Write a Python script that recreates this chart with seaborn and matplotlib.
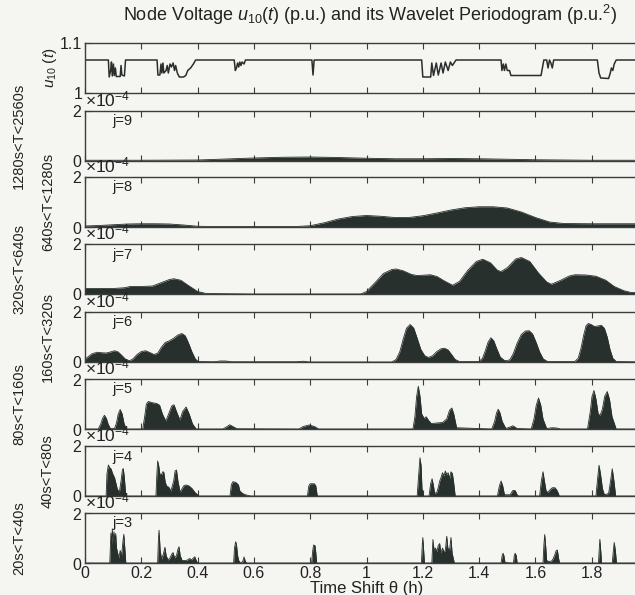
import numpy as np
import pandas as pd
import matplotlib
matplotlib.use("Agg")
import matplotlib.pyplot as plt
from matplotlib.ticker import ScalarFormatter
import seaborn as sns

# ---------------- data ----------------
# node voltage u10(t), p.u.
volt_x = [0, 0.083, 0.086, 0.091, 0.094, 0.097, 0.101, 0.104, 0.108, 0.111, 0.125, 0.128, 0.131, 0.14, 0.144,
          0.256, 0.259, 0.266, 0.27, 0.273, 0.277, 0.28, 0.288, 0.292, 0.296, 0.302, 0.307, 0.313, 0.318, 0.322,
          0.328, 0.335, 0.35, 0.358, 0.365, 0.375, 0.385, 0.393,
          0.53, 0.534, 0.538, 0.542, 0.546, 0.55, 0.554, 0.558, 0.565, 0.57,
          0.806, 0.81, 0.814,
          1.196, 1.2, 1.228, 1.232, 1.238, 1.248, 1.255, 1.265, 1.272, 1.28, 1.29, 1.298, 1.305, 1.318,
          1.478, 1.481, 1.486, 1.49, 1.495, 1.5, 1.508, 1.513, 1.62, 1.63, 1.64, 1.645, 1.65, 1.655, 1.66, 1.665,
          1.672, 1.82, 1.826, 1.832, 1.86, 1.866, 1.87, 1.875, 1.88, 1.887, 2.0]
volt_y = [1.066, 1.066, 1.032, 1.045, 1.062, 1.034, 1.058, 1.035, 1.05, 1.033, 1.033, 1.055, 1.036, 1.034, 1.066,
          1.066, 1.036, 1.036, 1.058, 1.04, 1.06, 1.04, 1.045, 1.055, 1.04, 1.058, 1.052, 1.06, 1.045, 1.055,
          1.04, 1.032, 1.032, 1.035, 1.045, 1.05, 1.058, 1.066,
          1.066, 1.045, 1.05, 1.06, 1.052, 1.062, 1.055, 1.062, 1.058, 1.066,
          1.066, 1.036, 1.066,
          1.066, 1.032, 1.032, 1.06, 1.035, 1.06, 1.036, 1.06, 1.04, 1.062, 1.045, 1.062, 1.055, 1.066,
          1.066, 1.045, 1.058, 1.045, 1.058, 1.045, 1.045, 1.035, 1.035, 1.066, 1.066, 1.05, 1.066, 1.06, 1.05, 1.066,
          1.066, 1.066, 1.04, 1.03, 1.029, 1.04, 1.05, 1.045, 1.058, 1.066, 1.066]

# wavelet periodogram levels (values in units of 1e-4 p.u.^2)
j9_x = [0, 0.2, 0.4, 0.5, 0.6, 0.7, 0.8, 0.9, 1.0, 1.1, 1.2, 1.3, 1.4, 1.5, 1.6, 1.8, 2.0]
j9_y = [0.03, 0.03, 0.04, 0.08, 0.12, 0.15, 0.16, 0.14, 0.11, 0.09, 0.09, 0.1, 0.09, 0.07, 0.05, 0.03, 0.03]

j8_x = [0, 0.05, 0.1, 0.15, 0.2, 0.25, 0.3, 0.35, 0.4, 0.45, 0.6, 0.75, 0.8, 0.85, 0.9, 0.95, 1.0, 1.05, 1.1,
        1.15, 1.2, 1.25, 1.3, 1.35, 1.4, 1.45, 1.5, 1.55, 1.6, 1.65, 1.7, 1.8, 1.9, 2.0]
j8_y = [0.04, 0.06, 0.09, 0.12, 0.13, 0.13, 0.12, 0.08, 0.03, 0.02, 0.02, 0.02, 0.05, 0.17, 0.32, 0.42, 0.46,
        0.43, 0.38, 0.38, 0.45, 0.56, 0.68, 0.77, 0.81, 0.81, 0.76, 0.6, 0.38, 0.2, 0.14, 0.13, 0.13, 0.13]

j7_x = [0, 0.1, 0.14, 0.16, 0.2, 0.24, 0.27, 0.3, 0.316, 0.34, 0.37, 0.4, 0.43, 0.6, 0.98, 1.0, 1.03, 1.06,
        1.09, 1.105, 1.13, 1.16, 1.18, 1.2, 1.227, 1.25, 1.28, 1.306, 1.33, 1.36, 1.39, 1.413, 1.44, 1.465,
        1.478, 1.5, 1.53, 1.55, 1.58, 1.61, 1.64, 1.657, 1.69, 1.72, 1.74, 1.78, 1.815, 1.85, 1.88, 1.915,
        1.94, 2.0]
j7_y = [0.22, 0.22, 0.25, 0.3, 0.3, 0.32, 0.45, 0.58, 0.61, 0.55, 0.32, 0.1, 0.02, 0.0, 0.0, 0.1, 0.45, 0.82,
        0.98, 1.0, 0.93, 0.78, 0.74, 0.75, 0.77, 0.7, 0.5, 0.35, 0.5, 0.95, 1.3, 1.39, 1.25, 0.95, 0.9, 1.05,
        1.4, 1.46, 1.3, 0.85, 0.48, 0.39, 0.55, 0.72, 0.77, 0.76, 0.71, 0.55, 0.3, 0.13, 0.06, 0.05]

j6_x = [0, 0.01, 0.025, 0.043, 0.06, 0.075, 0.09, 0.105, 0.118, 0.13, 0.145, 0.158, 0.17, 0.185, 0.2, 0.215,
        0.23, 0.245, 0.258, 0.272, 0.285, 0.3, 0.315, 0.33, 0.344, 0.356, 0.368, 0.38, 0.392, 0.402,
        0.46, 0.48, 0.50, 0.52, 0.75, 0.775, 0.80,
        1.09, 1.105, 1.118, 1.13, 1.142, 1.155, 1.168, 1.18, 1.193, 1.207, 1.22, 1.235, 1.25, 1.265, 1.277,
        1.29, 1.302, 1.315, 1.33,
        1.40, 1.412, 1.422, 1.432, 1.442, 1.452, 1.462, 1.475, 1.49, 1.5, 1.51, 1.522, 1.535, 1.55, 1.565,
        1.578, 1.59, 1.602, 1.615, 1.628, 1.643,
        1.74, 1.752, 1.762, 1.772, 1.78, 1.788, 1.798, 1.81, 1.822, 1.834, 1.845, 1.855, 1.865, 1.875, 1.887,
        2.0]
j6_y = [0.1, 0.2, 0.33, 0.39, 0.37, 0.36, 0.4, 0.45, 0.4, 0.27, 0.1, 0.05, 0.12, 0.3, 0.42, 0.45,
        0.38, 0.3, 0.35, 0.6, 0.78, 0.85, 0.95, 1.08, 1.14, 1.05, 0.75, 0.4, 0.12, 0.02,
        0.01, 0.04, 0.04, 0.01, 0.01, 0.03, 0.0,
        0.0, 0.1, 0.4, 0.9, 1.35, 1.5, 1.35, 0.95, 0.5, 0.25, 0.18, 0.25, 0.42, 0.53, 0.55,
        0.48, 0.3, 0.1, 0.02,
        0.02, 0.15, 0.45, 0.8, 0.97, 0.85, 0.55, 0.2, 0.06, 0.05, 0.1, 0.35, 0.75, 1.1, 1.24,
        1.25, 1.12, 0.8, 0.4, 0.12, 0.02,
        0.02, 0.15, 0.55, 1.1, 1.45, 1.54, 1.5, 1.42, 1.44, 1.47, 1.35, 1.0, 0.5, 0.15, 0.02,
        0.0]

j5_x = [0, 0.047, 0.056, 0.062, 0.069, 0.076, 0.082, 0.09, 0.105, 0.112, 0.118, 0.125, 0.132, 0.138, 0.146,
        0.205, 0.212, 0.218, 0.225, 0.24, 0.255, 0.265, 0.275, 0.287, 0.297, 0.308, 0.316, 0.325, 0.337, 0.347,
        0.359, 0.37, 0.382, 0.395, 0.49, 0.505, 0.514, 0.525, 0.54, 0.76, 0.775, 0.796, 0.815, 0.83,
        1.165, 1.172, 1.178, 1.184, 1.19, 1.196, 1.205, 1.212, 1.22, 1.23, 1.25, 1.27, 1.285, 1.295, 1.303,
        1.31, 1.32, 1.445, 1.455, 1.462, 1.468, 1.474, 1.482, 1.495, 1.51, 1.52, 1.535, 1.585, 1.595, 1.603,
        1.611, 1.619, 1.627, 1.64, 1.66, 1.675, 1.69, 1.785, 1.795, 1.801, 1.808, 1.815, 1.823, 1.83, 1.838,
        1.846, 1.855, 1.863, 1.872, 1.887, 2.0]
j5_y = [0, 0, 0.2, 0.42, 0.55, 0.42, 0.2, 0.02, 0.02, 0.25, 0.6, 0.78, 0.6, 0.25, 0,
        0, 0.5, 1.0, 1.1, 1.05, 1.02, 0.95, 0.6, 0.32, 0.6, 0.92, 0.97, 0.7, 0.36, 0.7,
        0.88, 0.6, 0.2, 0, 0, 0.1, 0.17, 0.1, 0.01, 0, 0.1, 0.16, 0.1, 0,
        0, 0.5, 1.3, 1.71, 1.3, 0.6, 0.42, 0.49, 0.35, 0.22, 0.24, 0.26, 0.4, 0.75, 0.84,
        0.6, 0.05, 0, 0.3, 0.65, 0.79, 0.65, 0.3, 0.02, 0.08, 0.13, 0.02, 0, 0.4, 0.95,
        1.24, 0.95, 0.4, 0.02, 0.05, 0.04, 0, 0, 0.7, 1.3, 1.54, 1.2, 0.6, 0.55, 0.8,
        1.3, 1.5, 1.2, 0.5, 0, 0]

j4_x = [0, 0.075, 0.078, 0.083, 0.088, 0.092, 0.098, 0.105, 0.11, 0.115, 0.122, 0.128, 0.133, 0.136, 0.14, 0.145,
        0.252, 0.255, 0.258, 0.262, 0.266, 0.272, 0.276, 0.28, 0.285, 0.29, 0.298, 0.305, 0.315, 0.32, 0.325,
        0.33, 0.338, 0.345, 0.352, 0.36, 0.37, 0.38, 0.39, 0.4, 0.405,
        0.515, 0.52, 0.525, 0.535, 0.545, 0.55, 0.56, 0.57, 0.58, 0.59,
        0.79, 0.795, 0.8, 0.815, 0.82, 0.825,
        1.18, 1.185, 1.19, 1.194, 1.197, 1.202, 1.222, 1.228, 1.233, 1.238, 1.242, 1.25, 1.255, 1.26, 1.265,
        1.27, 1.275, 1.28, 1.285, 1.29, 1.295, 1.3, 1.305, 1.31, 1.315,
        1.465, 1.472, 1.478, 1.484, 1.49, 1.51, 1.52, 1.528, 1.535, 1.54,
        1.615, 1.621, 1.627, 1.632, 1.638, 1.645, 1.652, 1.66, 1.67, 1.678, 1.685,
        1.815, 1.821, 1.826, 1.831, 1.838, 1.845, 1.86, 1.867, 1.873, 1.879, 1.885, 2.0]
j4_y = [0, 0, 0.9, 1.24, 1.13, 1.1, 0.9, 0.73, 0.5, 0.27, 0.15, 0.6, 1.05, 1.1, 0.7, 0,
        0, 0.8, 1.4, 1.2, 0.87, 0.85, 0.97, 0.95, 0.55, 0.4, 0.35, 0.2, 0.6, 1.0, 1.04,
        0.6, 0.15, 0.3, 0.42, 0.44, 0.4, 0.3, 0.15, 0.05, 0,
        0, 0.45, 0.57, 0.55, 0.45, 0.2, 0.1, 0.05, 0.02, 0,
        0, 0.4, 0.49, 0.49, 0.4, 0,
        0, 0.8, 1.53, 1.2, 0.3, 0, 0, 0.5, 0.69, 0.4, 0.1, 0.15, 0.35, 0.6, 0.75,
        0.93, 0.8, 1.0, 0.85, 0.93, 0.7, 0.97, 0.9, 0.5, 0,
        0, 0.4, 0.6, 0.4, 0.05, 0.05, 0.22, 0.22, 0.05, 0,
        0, 0.6, 0.97, 0.6, 0.2, 0.15, 0.25, 0.33, 0.33, 0.2, 0,
        0, 0.7, 1.23, 0.9, 0.3, 0.05, 0.1, 0.6, 1.09, 0.6, 0, 0]

j3_x = [0, 0.088, 0.092, 0.094, 0.097, 0.1, 0.103, 0.106, 0.109, 0.112, 0.116, 0.12, 0.125, 0.13, 0.135, 0.138,
        0.142, 0.145,
        0.258, 0.261, 0.263, 0.267, 0.272, 0.278, 0.284, 0.288, 0.295, 0.302, 0.308, 0.313, 0.318, 0.325, 0.33,
        0.334, 0.338, 0.345, 0.36, 0.372, 0.378, 0.385, 0.39, 0.395, 0.4,
        0.528, 0.531, 0.535, 0.538, 0.542, 0.546, 0.552, 0.56, 0.565, 0.57, 0.575,
        0.805, 0.809, 0.812, 0.817, 0.82, 0.823,
        1.195, 1.198, 1.2, 1.203, 1.206, 1.232, 1.236, 1.24, 1.245, 1.25, 1.255, 1.26, 1.264, 1.27, 1.275, 1.28,
        1.285, 1.289, 1.295, 1.3, 1.304, 1.308, 1.312,
        1.478, 1.482, 1.485, 1.488, 1.492, 1.522, 1.525, 1.528, 1.532, 1.535,
        1.627, 1.63, 1.633, 1.637, 1.64, 1.65, 1.66, 1.668, 1.674, 1.678, 1.682, 1.686,
        1.824, 1.827, 1.829, 1.832, 1.835, 1.873, 1.877, 1.88, 1.884, 1.888, 2.0]
j3_y = [0, 0, 1.2, 0.7, 1.37, 0.9, 1.25, 0.8, 1.18, 0.6, 0.4, 0.2, 0.5, 0.3, 0.9, 1.15, 0.5, 0,
        0, 1.0, 1.31, 0.5, 0.15, 0.35, 0.63, 0.3, 0.12, 0.2, 0.35, 0.42, 0.2, 0.3, 0.55,
        0.65, 0.3, 0.1, 0.1, 0.18, 0.12, 0.2, 0.25, 0.1, 0,
        0, 0.6, 0.85, 0.75, 0.3, 0.1, 0, 0.05, 0.24, 0.05, 0,
        0, 0.5, 0.72, 0.7, 0.4, 0,
        0, 0.7, 1.02, 0.5, 0, 0, 0.94, 0.5, 0.6, 0.45, 0.7, 0.78, 0.4, 0.6, 0.45, 0.5,
        1.07, 0.6, 0.5, 1.02, 0.4, 0.2, 0,
        0, 0.3, 0.39, 0.3, 0.02, 0, 0.3, 0.39, 0.3, 0,
        0, 0.7, 1.14, 0.6, 0.1, 0.05, 0.1, 0.3, 0.5, 0.52, 0.2, 0,
        0, 0.6, 0.95, 0.5, 0, 0, 0.5, 0.82, 0.5, 0, 0]

levels = ["j=9", "j=8", "j=7", "j=6", "j=5", "j=4", "j=3"]
bands = ["1280s<T<2560s", "640s<T<1280s", "320s<T<640s", "160s<T<320s",
         "80s<T<160s", "40s<T<80s", "20s<T<40s"]
series_x = [j9_x, j8_x, j7_x, j6_x, j5_x, j4_x, j3_x]
series_y = [j9_y, j8_y, j7_y, j6_y, j5_y, j4_y, j3_y]
scale = 1e-4
x_ticks = [0, 0.2, 0.4, 0.6, 0.8, 1, 1.2, 1.4, 1.6, 1.8, 2]
x_tick_labels = ["0", "0.2", "0.4", "0.6", "0.8", "1", "1.2", "1.4", "1.6", "1.8", "2"]

# ---------------- style ----------------
sns.set_theme(style="ticks")
FS = 11.5
plt.rcParams["font.family"] = ["Liberation Sans", "DejaVu Sans"]
plt.rcParams["mathtext.fontset"] = "custom"
plt.rcParams["mathtext.rm"] = "Liberation Sans"
plt.rcParams["mathtext.it"] = "Liberation Sans:italic"
plt.rcParams["mathtext.default"] = "regular"
plt.rcParams["xtick.labelsize"] = FS
plt.rcParams["ytick.labelsize"] = FS

bg = "#f5f5f2"
ink = "#2a2f2d"
fill_c = "#27302c"
axis_c = "#3c3c3c"
txt_c = "#222222"

W, H = 635, 595
fig = plt.figure(figsize=(W / 100, H / 100), dpi=100, facecolor=bg)

left_px, right_px = 85, 648
tops_px = [43, 111, 177, 244, 312, 379, 446, 513]
hgt_px = 50


def make_ax(top):
    ax = fig.add_axes([left_px / W, 1 - (top + hgt_px) / H, (right_px - left_px) / W, hgt_px / H])
    ax.set_facecolor("none")
    for s in ax.spines.values():
        s.set_color(axis_c)
        s.set_linewidth(1.0)
    ax.tick_params(direction="in", top=True, right=True, length=4, width=0.8,
                   colors=axis_c, labelcolor=txt_c, labelsize=FS, pad=2)
    ax.set_xlim(0, 2)
    ax.set_xticks(x_ticks)
    return ax


# voltage panel
ax0 = make_ax(tops_px[0])
dfv = pd.DataFrame({"t": volt_x, "u": volt_y})
sns.lineplot(data=dfv, x="t", y="u", ax=ax0, color=ink, linewidth=1.1, sort=False, estimator=None)
ax0.set_ylim(1.0, 1.1)
ax0.set_yticks([1.0, 1.1])
ax0.set_yticklabels(["1", "1.1"])
ax0.set_xticklabels([])
ax0.set_xlabel("")
ax0.set_ylabel("")
fig.text(50 / W, 1 - 68 / H, r"$\mathit{u_{10}}\ (\mathit{t})$", rotation=90, ha="center", va="center",
         fontsize=11, color=txt_c)
fig.text(370 / W, 1 - 15 / H,
         r"Node Voltage $\mathit{u_{10}(t)}$ (p.u.) and its Wavelet Periodogram (p.u.$^2$)",
         ha="center", va="center", fontsize=13, color=txt_c)

label_x = [19, 48, 19, 48, 19, 48, 19]
for i, (lev, band, xs, ys) in enumerate(zip(levels, bands, series_x, series_y)):
    ax = make_ax(tops_px[i + 1])
    yv = np.array(ys) * scale
    df = pd.DataFrame({"t": xs, "p": yv})
    ax.fill_between(df["t"], 0, df["p"], color=fill_c, linewidth=0)
    sns.lineplot(data=df, x="t", y="p", ax=ax, color=fill_c, linewidth=0.6, sort=False, estimator=None)
    ax.set_ylim(0, 2e-4)
    ax.set_yticks([0, 2e-4])
    fmt = ScalarFormatter(useMathText=True)
    fmt.set_powerlimits((0, 0))
    ax.yaxis.set_major_formatter(fmt)
    ax.yaxis.get_offset_text().set_fontsize(12.5)
    ax.yaxis.get_offset_text().set_color(txt_c)
    ax.set_ylabel("")
    if i < len(levels) - 1:
        ax.set_xticklabels([])
        ax.set_xlabel("")
    else:
        ax.set_xticklabels(x_tick_labels)
        ax.set_xlabel("Time Shift θ (h)", fontsize=12, color=txt_c, labelpad=0)
    ax.text(0.048, 0.93, lev, transform=ax.transAxes, ha="left", va="top", fontsize=10.5, color=txt_c)
    top = tops_px[i + 1]
    fig.text(label_x[i] / W, 1 - (top + hgt_px / 2) / H, band, rotation=90, ha="center", va="center",
             fontsize=10.5, color=txt_c)

fig.savefig("out.png", dpi=100, facecolor=bg)
